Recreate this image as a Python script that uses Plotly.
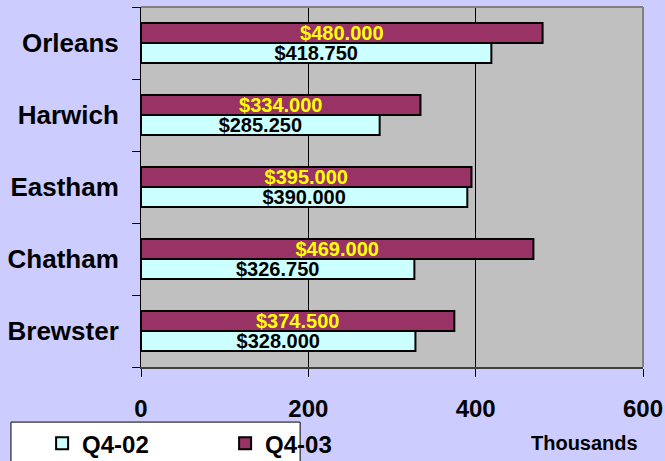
import plotly.graph_objects as go

categories = ["Brewster", "Chatham", "Eastham", "Harwich", "Orleans"]
q4_02 = [328.0, 326.75, 390.0, 285.25, 418.75]
q4_03 = [374.5, 469.0, 395.0, 334.0, 480.0]
x_ticks = [0, 200, 400, 600]

FONT = "Liberation Sans, Arial, sans-serif"

def fmt(vals):
    return ["$%.3f" % v for v in vals]

fig = go.Figure()
fig.add_trace(go.Bar(
    y=categories, x=q4_02, name="Q4-02", orientation="h",
    marker=dict(color="#CCFFFF", line=dict(color="black", width=2)),
    text=fmt(q4_02), textposition="inside", insidetextanchor="middle",
    textangle=0, constraintext="none",
    textfont=dict(family=FONT, size=20, color="black", weight="bold"),
))
fig.add_trace(go.Bar(
    y=categories, x=q4_03, name="Q4-03", orientation="h",
    marker=dict(color="#993366", line=dict(color="black", width=2)),
    text=fmt(q4_03), textposition="inside", insidetextanchor="middle",
    textangle=0, constraintext="none",
    textfont=dict(family=FONT, size=20, color="#FFFF00", weight="bold"),
))

fig.update_layout(
    width=665, height=461,
    margin=dict(l=141, r=22, t=7, b=94, autoexpand=False),
    paper_bgcolor="#CCCCFF", plot_bgcolor="#C0C0C0",
    barmode="group", bargap=0.444, bargroupgap=0,
    font=dict(family=FONT, color="black"),
    showlegend=True,
    legend=dict(
        orientation="h", x=-0.197, xanchor="left", y=-0.1506, yanchor="top",
        bgcolor="rgba(0,0,0,0)", entrywidth=138,
        font=dict(family=FONT, size=24, color="black", weight="bold"),
        traceorder="normal",
    ),
    xaxis=dict(
        range=[0, 600], tickvals=x_ticks, ticktext=[str(v) for v in x_ticks],
        showgrid=True, gridcolor="black", gridwidth=1,
        zeroline=False, showline=True, linecolor="#404040", linewidth=2,
        ticks="outside", ticklen=8, tickcolor="black",
        ticklabelstandoff=11, automargin=False,
        tickfont=dict(family=FONT, size=24, color="black", weight="bold"),
        fixedrange=True,
    ),
    yaxis=dict(
        showgrid=False, zeroline=False, showline=True, linecolor="black", linewidth=1,
        ticks="outside", ticklen=8, tickcolor="black", tickson="boundaries",
        ticklabelstandoff=16, automargin=False,
        tickfont=dict(family=FONT, size=26, color="black", weight="bold"),
        fixedrange=True,
    ),
    shapes=[
        dict(type="line", xref="paper", yref="paper", x0=0, x1=1, y0=1, y1=1,
             line=dict(color="#808080", width=2)),
        dict(type="line", xref="paper", yref="paper", x0=1, x1=1, y0=0, y1=1,
             line=dict(color="#808080", width=2)),
        dict(type="rect", xref="paper", yref="paper",
             x0=-0.259, x1=0.317, y0=-0.153, y1=-0.3,
             fillcolor="white", line=dict(color="black", width=1), layer="below"),
    ],
    annotations=[
        dict(text="Thousands", xref="paper", yref="paper", x=0.883, y=-0.211,
             xanchor="center", yanchor="middle", showarrow=False,
             font=dict(family=FONT, size=20, color="black", weight="bold")),
    ],
)

fig.write_html("out.html", config={"displayModeBar": False},
               post_script="document.body.style.margin='0';")
